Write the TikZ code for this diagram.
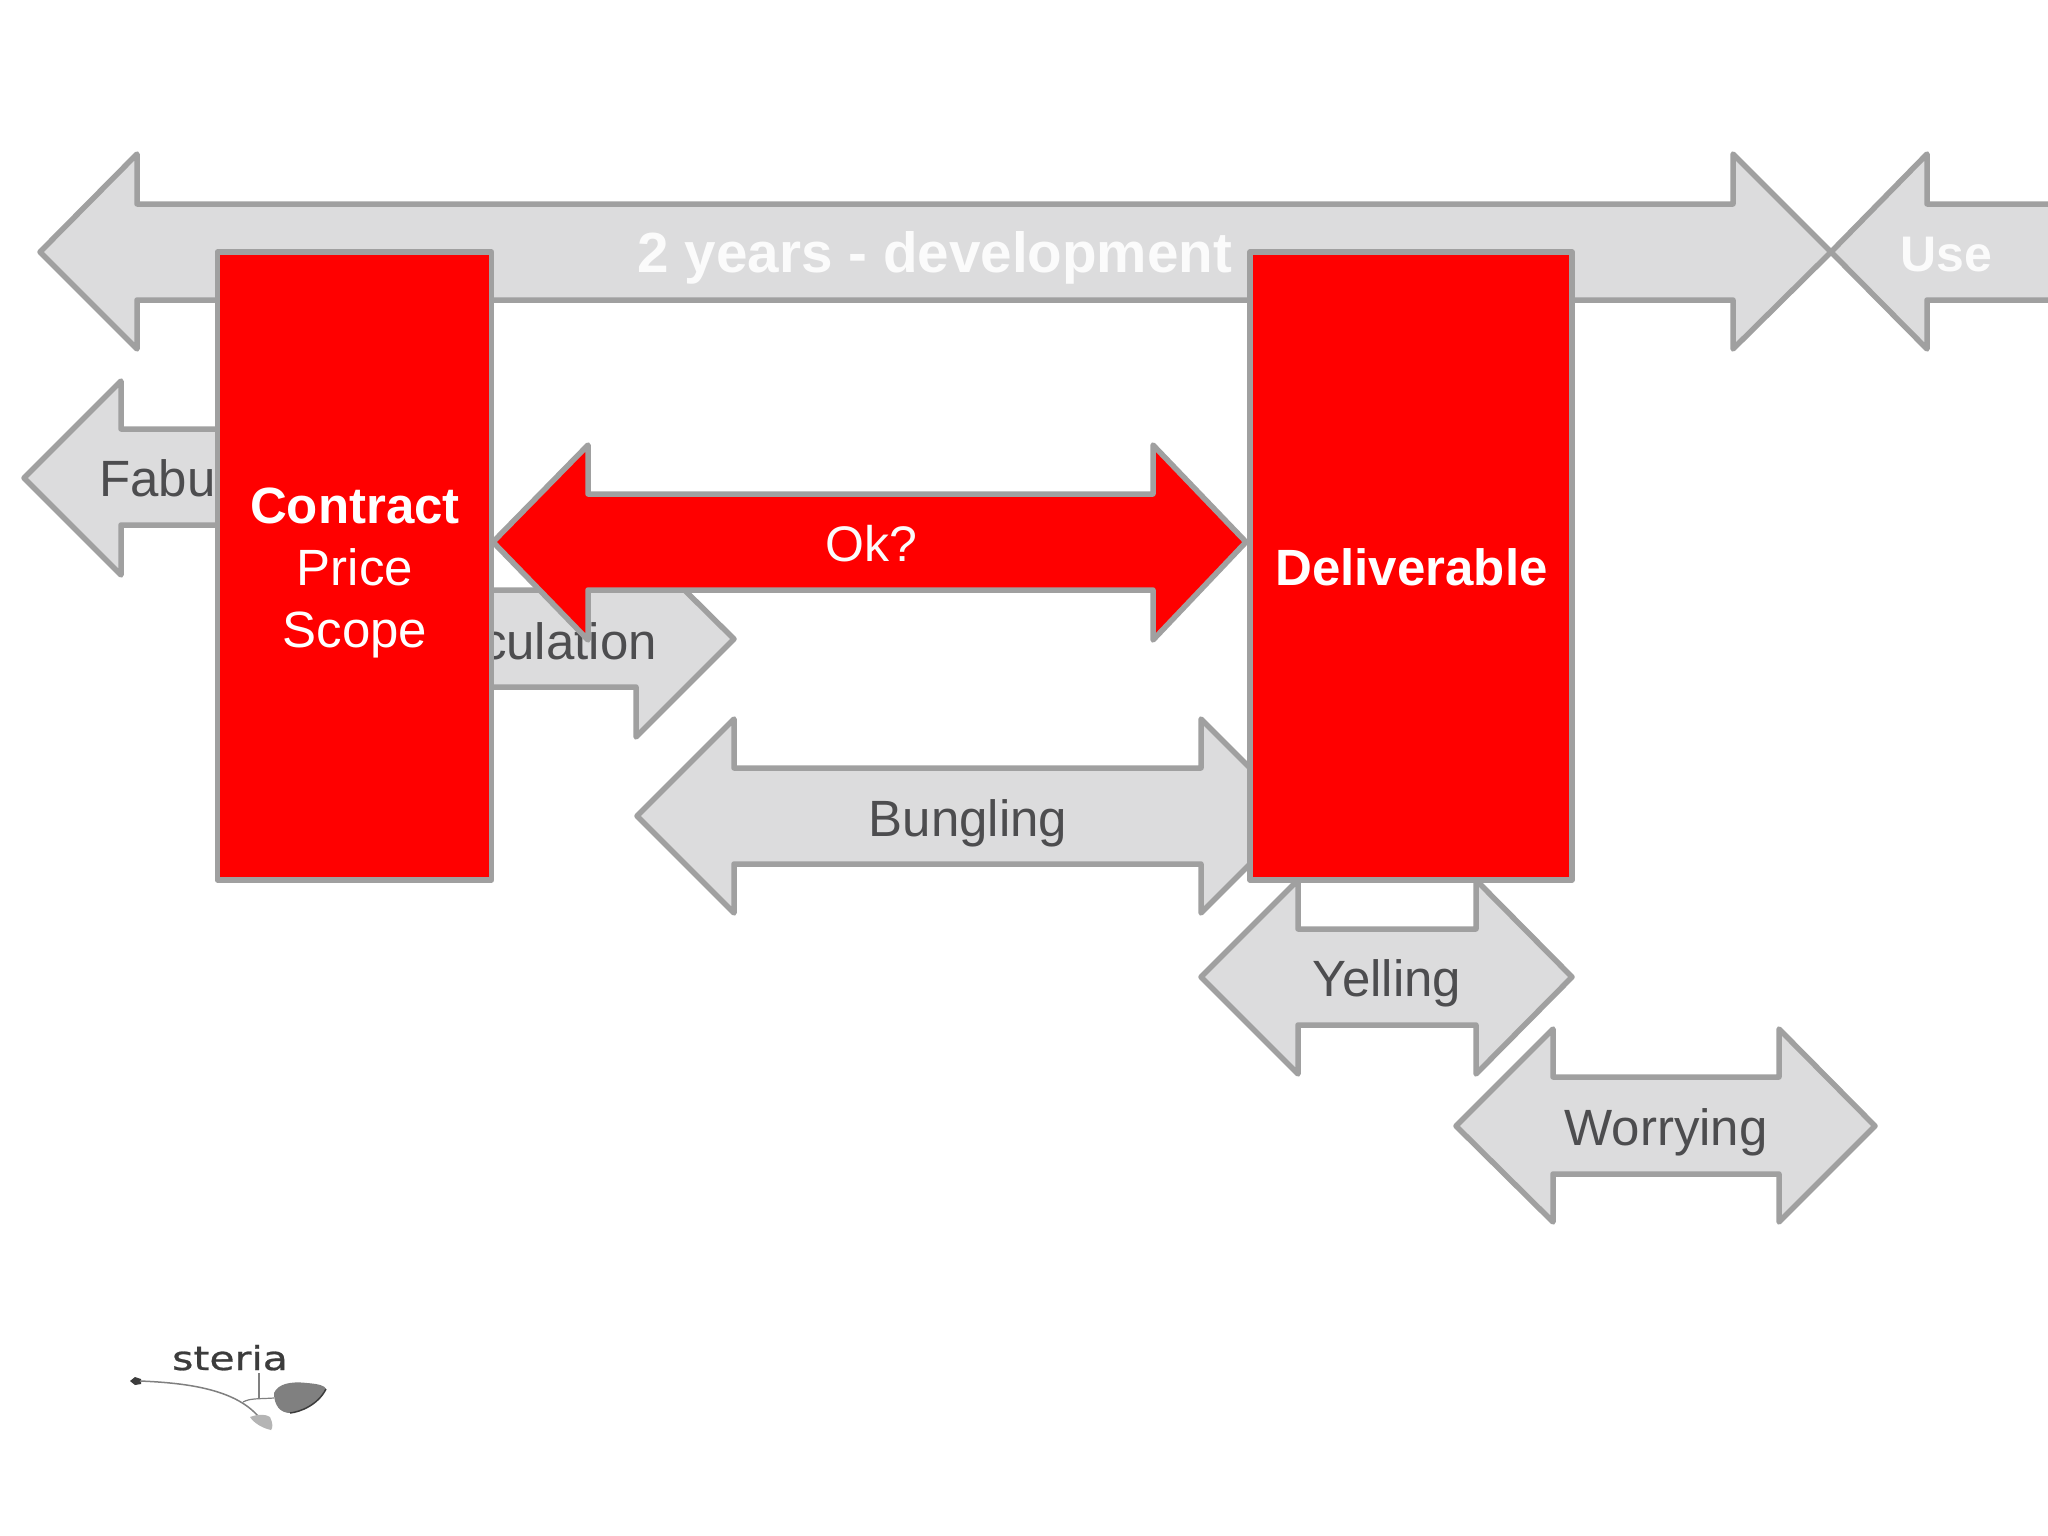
\documentclass[tikz,border=0pt]{standalone}
\usepackage{fontspec}
\setmainfont{Liberation Sans}
\newfontfamily\logofont[FakeStretch=1.24,FakeBold=0.8]{DejaVu Sans}
\definecolor{arrowfill}{HTML}{DCDCDD}
\definecolor{edgegrey}{HTML}{A0A0A0}
\definecolor{labelgrey}{HTML}{4D4D4F}
\definecolor{softwhite}{HTML}{FBFBFB}
\definecolor{logogrey}{HTML}{3C3C3C}
\definecolor{leafgrey}{HTML}{808080}
\definecolor{smallleaf}{HTML}{B4B4B4}
\tikzset{
  greyarrow/.style={draw=edgegrey,fill=arrowfill,line width=5.5pt,line join=round},
  redarrow/.style={draw=edgegrey,fill=red,line width=5.5pt,line join=round},
  redbox/.style={draw=edgegrey,fill=red,line width=5.5pt,line join=round,inner sep=0pt},
  boxlabel/.style={text=white,align=center,inner sep=0pt,font=\fontsize{51}{62}\selectfont},
  greylabel/.style={text=labelgrey,inner sep=0pt,anchor=base,font=\fontsize{51}{62}\selectfont},
  whitelabel/.style={text=softwhite,inner sep=0pt,anchor=base,font=\fontsize{56.6}{62}\selectfont\bfseries},
}
\begin{document}
\begin{tikzpicture}[x=1pt,y=-1pt]
\useasboundingbox[fill=white] (0,0) rectangle (2048,1536);
% Use
\begin{scope}
\clip (0,0) rectangle (2048,1536);
\draw[greyarrow] (2060,204) -- (1927,204) -- (1927,154) -- (1831,252) -- (1927,349) -- (1927,300) -- (2060,300);
\end{scope}
\node[whitelabel,font=\fontsize{50}{62}\selectfont\bfseries] (use) at (1946,271) {Use};
% two years
\draw[greyarrow] (40,252) -- (137,154) -- (137,204) -- (1733,204) -- (1733,154) -- (1831,252) -- (1733,349) -- (1733,300) -- (137,300) -- (137,349) -- cycle;
\node[whitelabel] (dev) at (935,272) {2 years - development};
% Fabu
\draw[greyarrow] (24,478) -- (121,381) -- (121,429) -- (300,429) -- (300,525) -- (121,525) -- (121,575) -- cycle;
\node[greylabel,anchor=base west] (fabu) at (99,496) {Fabu};
% culation
\draw[greyarrow] (400,590) -- (636,590) -- (636,542) -- (734,639) -- (636,737) -- (636,687) -- (400,687) -- cycle;
\node[greylabel,anchor=base east] (spec) at (657,659) {culation};
% Bungling
\draw[greyarrow] (637,816) -- (734,719) -- (734,768) -- (1201,768) -- (1201,719) -- (1298,816) -- (1201,913) -- (1201,864) -- (734,864) -- (734,913) -- cycle;
\node[greylabel] (bung) at (968,836) {Bungling};
% Yelling
\draw[greyarrow] (1201,977) -- (1298,880) -- (1298,929) -- (1476,929) -- (1476,880) -- (1572,977) -- (1476,1074) -- (1476,1025) -- (1298,1025) -- (1298,1074) -- cycle;
\node[greylabel] (yell) at (1387,996) {Yelling};
% Worrying
\draw[greyarrow] (1456,1126) -- (1553,1029) -- (1553,1077) -- (1779,1077) -- (1779,1029) -- (1875,1126) -- (1779,1222) -- (1779,1174) -- (1553,1174) -- (1553,1222) -- cycle;
\node[greylabel] (worry) at (1666,1145) {Worrying};
% red boxes
\node[redbox,minimum width=274pt,minimum height=628pt] (contract) at (354.5,566) {};
\node[boxlabel] (contractlabel) at (355,573) {{\bfseries Contract}\\Price\\Scope};
\node[redbox,minimum width=322pt,minimum height=628pt] (deliv) at (1411,566) {};
\node[boxlabel,font=\fontsize{51}{62}\selectfont\bfseries] (delivlabel) at (1411.5,567) {Deliverable};
% Ok
\draw[redarrow] (493,542) -- (588,445) -- (588,494) -- (1153,494) -- (1153,445) -- (1246,542) -- (1153,640) -- (1153,590) -- (588,590) -- (588,640) -- cycle;
\node[text=softwhite,inner sep=0pt,anchor=base,font=\fontsize{50}{62}\selectfont] (ok) at (871,561) {Ok?};
% logo
\node[text=logogrey,inner sep=0pt,anchor=base,font=\logofont\fontsize{33}{33}\selectfont] (steria) at (230,1370) {steria};
\fill[logogrey] (130,1381) -- (135,1377) -- (141,1379) -- (141,1384) -- (135,1385) -- cycle;
\draw[leafgrey,line width=1.5pt] (140,1381) .. controls (190,1383) and (235,1390) .. (258,1416);
\draw[leafgrey,line width=1.2pt] (243,1402) .. controls (250,1398) and (260,1399) .. (274,1398);
\draw[leafgrey,line width=1.2pt] (259,1373) -- (259,1399);
\fill[leafgrey] (274,1393) .. controls (278,1384) and (290,1381) .. (307,1383) .. controls (320,1384) and (325,1386) .. (326,1389) .. controls (318,1405) and (300,1412) .. (290,1413) .. controls (280,1413) and (274,1405) .. cycle;
\draw[logogrey,line width=1.5pt] (326,1389) .. controls (318,1405) and (300,1412) .. (290,1413);
\fill[smallleaf] (250,1417) .. controls (258,1414) and (266,1414) .. (270,1417) .. controls (273,1423) and (273,1428) .. (271,1430) .. controls (262,1428) and (254,1423) .. cycle;
\end{tikzpicture}
\end{document}
